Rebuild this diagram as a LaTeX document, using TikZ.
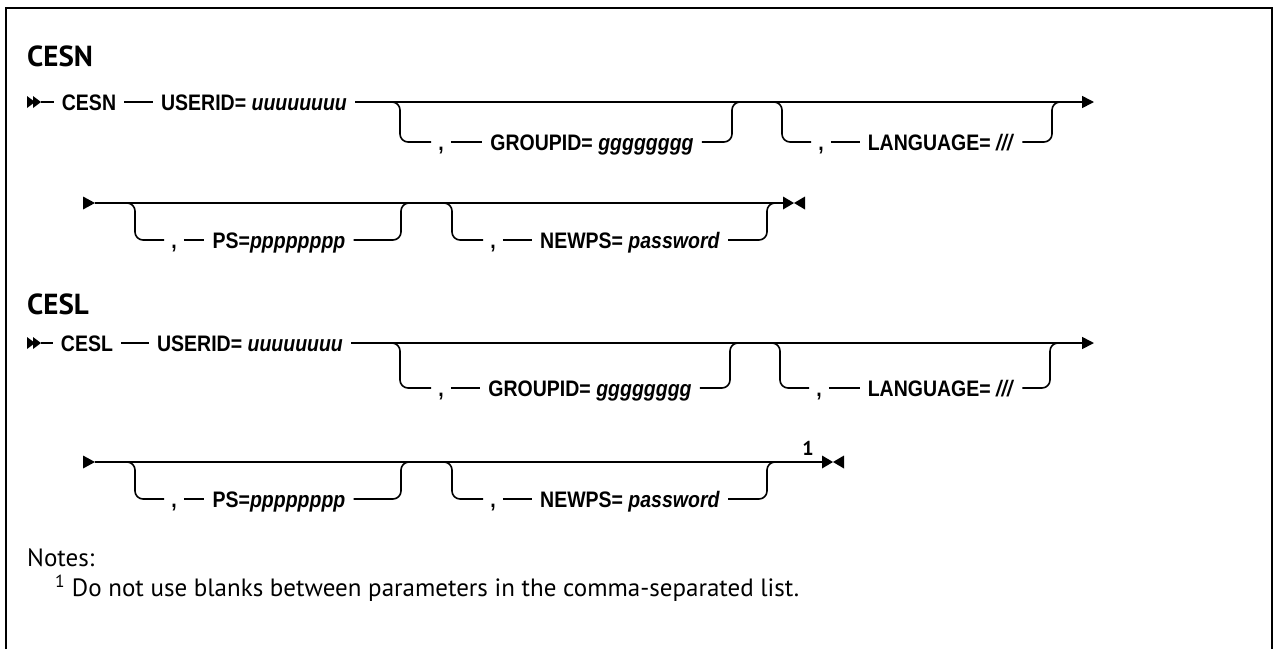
\documentclass[tikz,border=0pt]{standalone}
\usepackage{fontspec}
\usetikzlibrary{arrows.meta}
\setmainfont{Liberation Sans}
\newfontfamily\dfont{Liberation Sans}
\newfontfamily\pfont{PT Sans}
\newcommand{\stretchlab}[1]{\scalebox{1}[1.15]{#1}}
\begin{document}
\begin{tikzpicture}[x=1pt,y=-1pt,
  rail/.style={line width=1.6pt},
  bracketline/.style={rail, rounded corners=8pt},
  lbl/.style={inner xsep=8pt, inner ysep=0pt, text height=16pt, text depth=0pt, font=\dfont\bfseries\fontsize{19.5}{23}\selectfont},
  commanode/.style={lbl, inner xsep=7pt},
  endarrow/.style={rail, -{Triangle[length=12pt,width=12pt]}},
  headnode/.style={anchor=west, inner sep=0pt, font=\pfont\bfseries\fontsize{29}{33}\selectfont},
  notetext/.style={anchor=west, inner sep=0pt, font=\pfont\fontsize{25}{29}\selectfont},
  supnode/.style={inner sep=0pt, font=\pfont\bfseries\fontsize{20}{22}\selectfont},
  startmark/.pic={\fill (0,-6) -- (8,0) -- (0,6) -- cycle; \fill (6,-6) -- (14,0) -- (6,6) -- cycle;},
  contmark/.pic={\fill (0,-6.5) -- (12,0) -- (0,6.5) -- cycle;},
  endmark/.pic={\fill (0,-6.5) -- (11,0) -- (0,6.5) -- cycle; \fill (22,-6.5) -- (11,0) -- (22,6.5) -- cycle;}]
\useasboundingbox (0,0) rectangle (1274,649);
% frame
\draw[line width=2.2pt] (6,649) -- (6,8) -- (1272,8) -- (1272,649);

% ===== CESN =====
\node[headnode] (h1) at (27,56) {CESN};
% row 1
\pic at (27,102) {startmark};
\coordinate (s1) at (41,102);
\node[lbl] (cmd1) at (89,102) {\stretchlab{CESN}};
\node[lbl] (uid1) at (254,102) {\stretchlab{USERID= \textit{uuuuuuuu}}};
\coordinate (e1) at (1094,102);
\draw[rail] (s1) -- (cmd1);
\draw[rail] (cmd1) -- (uid1);
\draw[endarrow] (uid1) -- (e1);
\node[commanode] (ca1) at (441,142) {\stretchlab{,}};
\node[lbl] (pa1) at (592,142) {\stretchlab{GROUPID= \textit{gggggggg}}};
\draw[bracketline] (385,102) -| (400,142) -- (ca1);
\draw[rail] (ca1) -- (pa1);
\draw[bracketline] (pa1.east) -| (732,102) -- (746,102);
\node[commanode] (cb1) at (821,142) {\stretchlab{,}};
\node[lbl] (pb1) at (941,142) {\stretchlab{LANGUAGE= \textit{///}}};
\draw[bracketline] (768,102) -| (782,142) -- (cb1);
\draw[rail] (cb1) -- (pb1);
\draw[bracketline] (pb1.east) -| (1052,102) -- (1066,102);
% row 2
\pic at (83,203) {contmark};
\coordinate (s2) at (95,203);
\coordinate (e2) at (783,203);
\draw[rail] (s2) -- (e2);
\pic at (783,203) {endmark};
\node[commanode] (cc2) at (174,240) {\stretchlab{,}};
\node[lbl] (pc2) at (279,240) {\stretchlab{PS=\textit{pppppppp}}};
\draw[bracketline] (s2) -| (135,240) -- (cc2);
\draw[rail] (cc2) -- (pc2);
\draw[bracketline] (pc2.east) -| (401,203) -- (415,203);
\node[commanode] (cd2) at (493,240) {\stretchlab{,}};
\node[lbl] (pd2) at (630,240) {\stretchlab{NEWPS= \textit{password}}};
\draw[bracketline] (430,203) -| (452,240) -- (cd2);
\draw[rail] (cd2) -- (pd2);
\draw[bracketline] (pd2.east) -| (767,203) -- (780,203);

% ===== CESL =====
\node[headnode] (h2) at (27,304) {CESL};
% row 3
\pic at (27,343) {startmark};
\coordinate (s3) at (41,343);
\node[lbl] (cmd3) at (87,343) {\stretchlab{CESL}};
\node[lbl] (uid3) at (250,343) {\stretchlab{USERID= \textit{uuuuuuuu}}};
\coordinate (e3) at (1094,343);
\draw[rail] (s3) -- (cmd3);
\draw[rail] (cmd3) -- (uid3);
\draw[endarrow] (uid3) -- (e3);
\node[commanode] (ca3) at (441,388) {\stretchlab{,}};
\node[lbl] (pa3) at (590,388) {\stretchlab{GROUPID= \textit{gggggggg}}};
\draw[bracketline] (385,343) -| (400,388) -- (ca3);
\draw[rail] (ca3) -- (pa3);
\draw[bracketline] (pa3.east) -| (730,343) -- (744,343);
\node[commanode] (cb3) at (819,388) {\stretchlab{,}};
\node[lbl] (pb3) at (941,388) {\stretchlab{LANGUAGE= \textit{///}}};
\draw[bracketline] (766,343) -| (780,388) -- (cb3);
\draw[rail] (cb3) -- (pb3);
\draw[bracketline] (pb3.east) -| (1050,343) -- (1064,343);
% row 4
\pic at (83,462) {contmark};
\coordinate (s4) at (95,462);
\coordinate (e4) at (822,462);
\draw[rail] (s4) -- (e4);
\pic at (822,462) {endmark};
\node[supnode] (n1) at (808,448) {1};
\node[commanode] (cc4) at (174,499) {\stretchlab{,}};
\node[lbl] (pc4) at (279,499) {\stretchlab{PS=\textit{pppppppp}}};
\draw[bracketline] (s4) -| (135,499) -- (cc4);
\draw[rail] (cc4) -- (pc4);
\draw[bracketline] (pc4.east) -| (401,462) -- (415,462);
\node[commanode] (cd4) at (493,499) {\stretchlab{,}};
\node[lbl] (pd4) at (630,499) {\stretchlab{NEWPS= \textit{password}}};
\draw[bracketline] (430,462) -| (452,499) -- (cd4);
\draw[rail] (cd4) -- (pd4);
\draw[bracketline] (pd4.east) -| (767,462) -- (780,462);

% ===== Notes =====
\node[notetext] (notes) at (27,558) {Notes:};
\node[notetext] (note1) at (55,588) {\textsuperscript{1} Do not use blanks between parameters in the comma-separated list.};
\end{tikzpicture}
\end{document}
